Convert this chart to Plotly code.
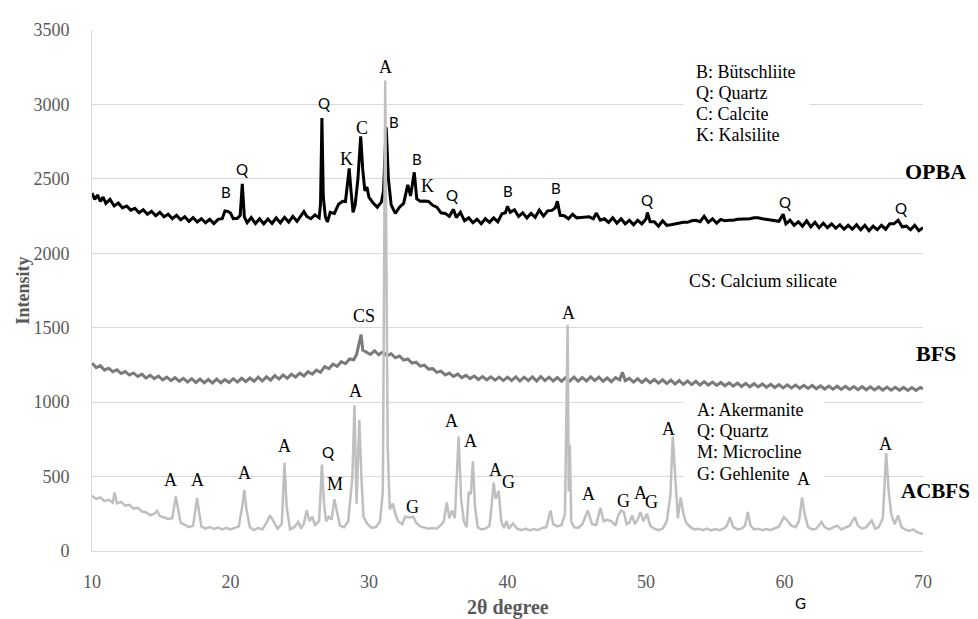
import plotly.graph_objects as go

# ---------------- data ----------------
opba_2theta = [10.0, 10.2, 10.4, 10.6, 10.8, 11.0, 11.3, 11.6, 11.9, 12.2, 12.5, 12.8, 13.1, 13.4, 13.7, 14.0, 14.3, 14.6, 14.9, 15.2,
               15.5, 15.8, 16.1, 16.4, 16.7, 17.0, 17.3, 17.6, 17.9, 18.2, 18.5, 18.8, 19.1, 19.4, 19.6, 19.8, 20.0, 20.2, 20.5, 20.7,
               20.85, 21.0, 21.2, 21.5, 21.8, 22.1, 22.4, 22.7, 23.0, 23.3, 23.6, 23.9, 24.2, 24.5, 24.8, 25.1, 25.3, 25.5, 25.8, 26.1,
               26.4, 26.5, 26.6, 26.7, 26.85, 27.0, 27.2, 27.5, 27.8, 28.1, 28.3, 28.45, 28.57, 28.7, 28.85, 29.0, 29.2, 29.4, 29.55, 29.7,
               29.85, 30.0, 30.3, 30.6, 30.9, 31.05, 31.24, 31.4, 31.6, 31.9, 32.2, 32.5, 32.8, 33.0, 33.27, 33.45, 33.7, 34.0, 34.3, 34.6,
               34.9, 35.2, 35.5, 35.8, 36.1, 36.3, 36.6, 36.9, 37.2, 37.5, 37.8, 38.1, 38.4, 38.7, 39.0, 39.3, 39.6, 39.85, 40.0, 40.2,
               40.5, 40.8, 41.1, 41.4, 41.7, 42.0, 42.3, 42.6, 42.9, 43.2, 43.45, 43.6, 43.8, 44.1, 44.4, 44.7, 45.0, 45.3, 45.6, 45.9,
               46.2, 46.4, 46.7, 47.0, 47.3, 47.6, 47.9, 48.2, 48.5, 48.8, 49.1, 49.4, 49.7, 50.0, 50.1, 50.3, 50.6, 50.9, 51.2, 51.5,
               51.8, 52.1, 52.4, 52.7, 53.0, 53.3, 53.6, 53.9, 54.2, 54.5, 54.8, 55.1, 55.4, 55.7, 56.0, 56.3, 56.6, 56.9, 57.2, 57.5,
               57.8, 58.1, 58.4, 58.7, 59.0, 59.3, 59.6, 59.9, 60.1, 60.4, 60.7, 61.0, 61.3, 61.6, 61.9, 62.2, 62.5, 62.8, 63.1, 63.4,
               63.7, 64.0, 64.3, 64.6, 64.9, 65.2, 65.5, 65.8, 66.1, 66.4, 66.7, 67.0, 67.3, 67.6, 67.9, 68.2, 68.5, 68.8, 69.1, 69.4,
               69.7, 70.0]
opba_intensity = [2405, 2362, 2392, 2348, 2378, 2335, 2362, 2318, 2338, 2305, 2318, 2290, 2302, 2272, 2292, 2262, 2282, 2252, 2275, 2245,
                  2262, 2232, 2255, 2225, 2245, 2215, 2240, 2210, 2232, 2205, 2228, 2200, 2228, 2232, 2285, 2282, 2270, 2232, 2235, 2255,
                  2467, 2245, 2205, 2240, 2200, 2232, 2198, 2230, 2200, 2238, 2205, 2242, 2210, 2248, 2215, 2250, 2280, 2248, 2232, 2258,
                  2238, 2330, 2909, 2380, 2245, 2210, 2275, 2268, 2330, 2350, 2348, 2470, 2571, 2420, 2275, 2325, 2500, 2785, 2560, 2420,
                  2445, 2375, 2338, 2310, 2345, 2420, 2847, 2500, 2325, 2268, 2310, 2335, 2460, 2385, 2544, 2365, 2350, 2352, 2348, 2322,
                  2310, 2272, 2268, 2248, 2295, 2240, 2275, 2218, 2238, 2205, 2228, 2198, 2232, 2208, 2238, 2212, 2265, 2272, 2316, 2275,
                  2292, 2248, 2272, 2238, 2268, 2242, 2290, 2250, 2285, 2288, 2305, 2350, 2255, 2252, 2232, 2262, 2238, 2240, 2242, 2245,
                  2232, 2270, 2222, 2232, 2208, 2238, 2202, 2232, 2198, 2222, 2192, 2222, 2198, 2230, 2274, 2212, 2212, 2182, 2218, 2188,
                  2192, 2198, 2202, 2208, 2208, 2218, 2222, 2212, 2248, 2208, 2232, 2202, 2228, 2218, 2222, 2222, 2228, 2228, 2232, 2232,
                  2238, 2238, 2232, 2228, 2222, 2218, 2215, 2262, 2198, 2222, 2188, 2212, 2182, 2218, 2178, 2208, 2172, 2202, 2172, 2198,
                  2168, 2192, 2162, 2188, 2162, 2192, 2158, 2188, 2152, 2182, 2158, 2188, 2162, 2198, 2198, 2222, 2178, 2182, 2158, 2188,
                  2152, 2172]

bfs_2theta = [10.0, 10.3, 10.6, 10.9, 11.2, 11.5, 11.8, 12.1, 12.4, 12.7, 13.0, 13.3, 13.6, 13.9, 14.2, 14.5, 14.8, 15.1, 15.4, 15.7,
              16.0, 16.3, 16.6, 16.9, 17.2, 17.5, 17.8, 18.1, 18.4, 18.7, 19.0, 19.3, 19.6, 19.9, 20.2, 20.5, 20.8, 21.1, 21.4, 21.7,
              22.0, 22.3, 22.6, 22.9, 23.2, 23.5, 23.8, 24.1, 24.4, 24.7, 25.0, 25.3, 25.6, 25.9, 26.2, 26.5, 26.8, 27.1, 27.4, 27.7,
              28.0, 28.3, 28.6, 28.9, 29.1, 29.3, 29.43, 29.55, 29.8, 30.1, 30.4, 30.7, 31.0, 31.3, 31.6, 31.9, 32.2, 32.5, 32.8, 33.1,
              33.4, 33.7, 34.0, 34.3, 34.6, 34.9, 35.2, 35.5, 35.8, 36.1, 36.4, 36.7, 37.0, 37.3, 37.6, 37.9, 38.2, 38.5, 38.8, 39.1,
              39.4, 39.7, 40.0, 40.3, 40.6, 40.9, 41.2, 41.5, 41.8, 42.1, 42.4, 42.7, 43.0, 43.3, 43.6, 43.9, 44.2, 44.5, 44.8, 45.1,
              45.4, 45.7, 46.0, 46.3, 46.6, 46.9, 47.2, 47.5, 47.8, 48.1, 48.3, 48.5, 48.8, 49.1, 49.4, 49.7, 50.0, 50.3, 50.6, 50.9,
              51.2, 51.5, 51.8, 52.1, 52.4, 52.7, 53.0, 53.3, 53.6, 53.9, 54.2, 54.5, 54.8, 55.1, 55.4, 55.7, 56.0, 56.3, 56.6, 56.9,
              57.2, 57.5, 57.8, 58.1, 58.4, 58.7, 59.0, 59.3, 59.6, 59.9, 60.2, 60.5, 60.8, 61.1, 61.4, 61.7, 62.0, 62.3, 62.6, 62.9,
              63.2, 63.5, 63.8, 64.1, 64.4, 64.7, 65.0, 65.3, 65.6, 65.9, 66.2, 66.5, 66.8, 67.1, 67.4, 67.7, 68.0, 68.3, 68.6, 68.9,
              69.2, 69.5, 69.8, 70.0]
bfs_intensity = [1262, 1232, 1245, 1215, 1228, 1205, 1218, 1192, 1205, 1182, 1196, 1172, 1188, 1162, 1180, 1158, 1175, 1150, 1168, 1145,
                 1165, 1140, 1160, 1135, 1158, 1132, 1155, 1130, 1152, 1128, 1155, 1130, 1152, 1132, 1158, 1135, 1160, 1138, 1162, 1140,
                 1168, 1142, 1170, 1148, 1178, 1155, 1182, 1160, 1188, 1168, 1195, 1175, 1205, 1188, 1215, 1200, 1238, 1225, 1255, 1240,
                 1272, 1258, 1290, 1285, 1320, 1390, 1454, 1350, 1335, 1320, 1345, 1318, 1338, 1312, 1325, 1298, 1310, 1282, 1290, 1262,
                 1268, 1242, 1248, 1222, 1225, 1200, 1208, 1182, 1195, 1172, 1188, 1165, 1180, 1158, 1175, 1152, 1172, 1150, 1170, 1148,
                 1168, 1145, 1168, 1145, 1170, 1142, 1168, 1145, 1170, 1142, 1172, 1145, 1168, 1142, 1165, 1140, 1165, 1142, 1168, 1140,
                 1165, 1142, 1170, 1145, 1168, 1140, 1162, 1138, 1165, 1150, 1200, 1145, 1160, 1135, 1158, 1132, 1155, 1130, 1152, 1128,
                 1150, 1125, 1148, 1122, 1145, 1120, 1142, 1118, 1140, 1115, 1138, 1115, 1135, 1112, 1132, 1110, 1130, 1108, 1128, 1105,
                 1126, 1103, 1124, 1102, 1122, 1100, 1120, 1098, 1118, 1096, 1116, 1095, 1115, 1093, 1113, 1092, 1112, 1090, 1110, 1088,
                 1108, 1087, 1107, 1086, 1106, 1085, 1105, 1084, 1104, 1083, 1103, 1082, 1102, 1081, 1101, 1080, 1100, 1080, 1099, 1079,
                 1098, 1079, 1098, 1090]

acbfs_2theta = [10.0, 10.3, 10.6, 10.9, 11.2, 11.5, 11.63, 11.8, 12.1, 12.4, 12.7, 13.0, 13.3, 13.6, 13.9, 14.2, 14.5, 14.7, 14.9, 15.2,
                15.5, 15.8, 15.95, 16.05, 16.2, 16.4, 16.7, 17.0, 17.3, 17.45, 17.59, 17.75, 17.9, 18.2, 18.5, 18.8, 19.1, 19.4, 19.7, 20.0,
                20.3, 20.6, 20.85, 21.0, 21.15, 21.4, 21.7, 22.0, 22.3, 22.6, 22.86, 23.1, 23.4, 23.7, 23.9, 24.05, 24.3, 24.6, 24.9, 25.1,
                25.3, 25.5, 25.7, 25.9, 26.1, 26.4, 26.6, 26.75, 26.9, 27.1, 27.3, 27.5, 27.7, 27.9, 28.2, 28.5, 28.8, 28.95, 29.1, 29.3,
                29.45, 29.6, 29.9, 30.2, 30.5, 30.8, 31.0, 31.17, 31.35, 31.5, 31.72, 31.9, 32.1, 32.4, 32.6, 32.9, 33.2, 33.4, 33.7, 34.0,
                34.3, 34.6, 34.9, 35.2, 35.4, 35.62, 35.8, 36.0, 36.2, 36.47, 36.65, 36.85, 37.05, 37.2, 37.35, 37.5, 37.65, 37.85, 38.1, 38.4,
                38.7, 38.85, 39.0, 39.15, 39.36, 39.55, 39.75, 39.93, 40.1, 40.4, 40.7, 41.0, 41.3, 41.6, 41.9, 42.2, 42.5, 42.8, 43.1, 43.3,
                43.6, 43.9, 44.15, 44.34, 44.42, 44.5, 44.6, 44.8, 45.1, 45.4, 45.8, 46.1, 46.4, 46.7, 46.95, 47.2, 47.5, 47.8, 48.0, 48.2,
                48.4, 48.6, 48.8, 49.0, 49.2, 49.4, 49.6, 49.8, 50.07, 50.3, 50.6, 50.9, 51.2, 51.5, 51.76, 51.93, 52.1, 52.3, 52.5, 52.7,
                52.9, 53.2, 53.5, 53.8, 54.1, 54.4, 54.7, 55.0, 55.3, 55.6, 55.85, 56.05, 56.3, 56.6, 56.9, 57.15, 57.35, 57.55, 57.8, 58.1,
                58.4, 58.7, 59.0, 59.3, 59.6, 59.95, 60.2, 60.5, 60.8, 61.05, 61.27, 61.45, 61.7, 62.0, 62.3, 62.67, 62.9, 63.2, 63.5, 63.8,
                64.1, 64.4, 64.7, 65.08, 65.3, 65.6, 65.9, 66.3, 66.55, 66.8, 67.1, 67.34, 67.5, 67.7, 67.95, 68.2, 68.45, 68.7, 69.0, 69.3,
                69.6, 70.0]
acbfs_intensity = [371, 350, 360, 335, 345, 325, 393, 320, 330, 305, 310, 285, 290, 265, 260, 240, 250, 270, 235, 225,
                   215, 220, 300, 367, 290, 190, 175, 161, 170, 260, 356, 250, 165, 150, 160, 148, 158, 145, 155, 145,
                   155, 165, 300, 411, 280, 160, 140, 155, 145, 190, 239, 200, 150, 180, 592, 300, 145, 160, 195, 150,
                   185, 273, 200, 230, 175, 200, 581, 320, 200, 230, 210, 347, 250, 170, 160, 200, 500, 979, 318, 880,
                   500, 230, 180, 155, 160, 200, 400, 3160, 700, 280, 318, 250, 200, 180, 230, 225, 230, 190, 165, 155,
                   150, 155, 150, 175, 200, 327, 220, 273, 220, 769, 350, 200, 160, 398, 380, 603, 300, 160, 145, 150,
                   170, 300, 460, 350, 404, 200, 155, 200, 150, 185, 150, 140, 150, 138, 148, 140, 155, 160, 272, 180,
                   165, 175, 250, 1520, 400, 714, 200, 160, 155, 180, 272, 180, 175, 290, 200, 210, 200, 170, 240, 272,
                   260, 180, 190, 239, 180, 210, 262, 200, 250, 170, 150, 140, 150, 200, 372, 770, 500, 220, 360, 250,
                   190, 160, 145, 150, 140, 150, 138, 148, 140, 150, 170, 228, 160, 145, 150, 170, 262, 170, 145, 150,
                   140, 148, 140, 150, 165, 228, 205, 170, 160, 200, 360, 250, 160, 145, 150, 195, 160, 145, 155, 170,
                   145, 155, 170, 228, 170, 150, 160, 206, 150, 160, 220, 658, 426, 250, 180, 239, 160, 145, 135, 145,
                   125, 113]

series_names = ["OPBA", "BFS", "ACBFS"]
y_ticks = [0, 500, 1000, 1500, 2000, 2500, 3000, 3500]
x_ticks = [10, 20, 30, 40, 50, 60, 70]

# peak labels: (letter, 2theta, intensity, style)
opba_labels = [("B", 19.68, 2413, "sans"), ("Q", 20.84, 2566, "sans"), ("Q", 26.76, 3008, "sans"),
               ("K", 28.4, 2632, "serif"), ("C", 29.48, 2840, "serif"), ("B", 31.77, 2880, "sans"),
               ("B", 33.45, 2632, "sans"), ("K", 34.2, 2449, "serif"), ("Q", 35.98, 2389, "sans"),
               ("B", 40.0, 2416, "sans"), ("B", 43.5, 2438, "sans"), ("Q", 50.1, 2361, "sans"),
               ("Q", 60.0, 2345, "sans"), ("Q", 68.38, 2306, "sans")]
bfs_labels = [("CS", 29.65, 1578, "serif")]
acbfs_labels = [("A", 31.17, 3249, "serif"), ("A", 15.64, 475, "serif"), ("A", 17.6, 475, "serif"),
                ("A", 21.0, 526, "serif"), ("A", 23.9, 703, "serif"), ("Q", 27.03, 665, "sans"),
                ("M", 27.56, 448, "serif"), ("A", 29.05, 1074, "serif"), ("G", 33.16, 294, "serif"),
                ("A", 35.98, 873, "serif"), ("A", 37.35, 741, "serif"), ("A", 39.1, 542, "serif"),
                ("G", 40.08, 464, "serif"), ("A", 44.4, 1598, "serif"), ("A", 45.86, 383, "serif"),
                ("G", 48.34, 334, "serif"), ("A", 49.6, 387, "serif"), ("G", 50.43, 327, "serif"),
                ("A", 51.64, 820, "serif"), ("A", 61.4, 482, "serif"), ("A", 67.3, 721, "serif")]

opba_key = ["B: Bütschliite", "Q: Quartz", "C: Calcite", "K: Kalsilite"]
bfs_key = ["CS: Calcium silicate"]
acbfs_key = ["A: Akermanite", "Q: Quartz", "M: Microcline", "G: Gehlenite"]

# ---------------- styling ----------------
SERIF = "Liberation Serif"
SANS = "Lato"
GRAY_TXT = "#595959"
GRID = "#d9d9d9"
colors = {"OPBA": "#000000", "BFS": "#7a7a7a", "ACBFS": "#bfbfbf"}
widths = {"OPBA": 3, "BFS": 3, "ACBFS": 2.5}

fig = go.Figure()
for name, xs, ys in [("OPBA", opba_2theta, opba_intensity),
                     ("BFS", bfs_2theta, bfs_intensity),
                     ("ACBFS", acbfs_2theta, acbfs_intensity)]:
    fig.add_trace(go.Scatter(x=xs, y=ys, mode="lines", name=name,
                             line=dict(color=colors[name], width=widths[name]), showlegend=False))

annotations = []
for lab, x, y, style in opba_labels + bfs_labels + acbfs_labels:
    annotations.append(dict(x=x, y=y, xref="x", yref="y", text=lab, showarrow=False,
                            xanchor="center", yanchor="middle",
                            font=dict(family=SERIF if style == "serif" else SANS,
                                      size=18 if style == "serif" else 15, color="#000000")))

# key text blocks (one annotation per line)
key_rows = [(opba_key, 53.5, [3216, 3077, 2938, 2792]),
            (bfs_key, 52.99, [1817]),
            (acbfs_key, 53.57, [948, 807, 665, 519])]
for lines, x0, ys in key_rows:
    for txt, y in zip(lines, ys):
        annotations.append(dict(x=x0, y=y, xref="x", yref="y", text=txt, showarrow=False,
                                xanchor="left", yanchor="middle",
                                font=dict(family=SERIF, size=18, color="#000000")))

# series names at right
for name, xp, y, fs in [("OPBA", 1.0150, 2548, 22), ("BFS", 1.0156, 1326, 22), ("ACBFS", 1.0150, 404, 21)]:
    annotations.append(dict(x=xp, y=y, xref="paper", yref="y", text="<b>%s</b>" % name, showarrow=False,
                            xanchor="center", yanchor="middle",
                            font=dict(family=SERIF, size=fs, color="#000000")))

# axis titles
annotations.append(dict(x=-0.0842, y=0.5, xref="paper", yref="paper", text="<b>Intensity</b>",
                        textangle=-90, showarrow=False, xanchor="center", yanchor="middle",
                        font=dict(family=SERIF, size=18, color=GRAY_TXT)))
annotations.append(dict(x=0.5, y=-0.108, xref="paper", yref="paper", text="<b>2θ degree</b>",
                        showarrow=False, xanchor="center", yanchor="middle",
                        font=dict(family=SERIF, size=20, color=GRAY_TXT)))
annotations.append(dict(x=0.852, y=-0.1004, xref="paper", yref="paper", text="G",
                        showarrow=False, xanchor="center", yanchor="middle",
                        font=dict(family=SANS, size=15, color="#000000")))

# white text-box backgrounds that break the gridlines
shapes = [
    dict(type="rect", xref="x", yref="y", x0=52.7, x1=61.8, y0=2740, y1=3280,
         fillcolor="white", line=dict(width=0), layer="between"),
    dict(type="rect", xref="x", yref="y", x0=52.68, x1=62.84, y0=460, y1=1010,
         fillcolor="white", line=dict(width=0), layer="between"),
    dict(type="rect", xref="paper", yref="y", x0=0.9627, x1=1.0, y0=2420, y1=2680,
         fillcolor="white", line=dict(width=0), layer="between"),
    dict(type="rect", xref="paper", yref="y", x0=0.9627, x1=1.0, y0=430, y1=580,
         fillcolor="white", line=dict(width=0), layer="between"),
]

# the page body adds an 8 px offset, so the figure is 8 px smaller than the window
fig.update_layout(
    width=970, height=611,
    margin=dict(l=84, r=55, t=15, b=68),
    paper_bgcolor="white", plot_bgcolor="white",
    annotations=annotations, shapes=shapes,
    showlegend=False,
)
fig.update_xaxes(range=[10, 70], tickvals=x_ticks, showgrid=False, zeroline=False,
                 showline=True, linecolor=GRID, linewidth=1,
                 ticks="", ticklabelstandoff=14,
                 tickfont=dict(family=SERIF, size=18, color=GRAY_TXT))
fig.update_yaxes(range=[0, 3500], tickvals=y_ticks, showgrid=True, gridcolor=GRID, gridwidth=1,
                 zeroline=False, showline=True, linecolor=GRID, linewidth=1,
                 ticks="", ticklabelstandoff=18,
                 tickfont=dict(family=SERIF, size=18, color=GRAY_TXT))

fig.write_html("out.html")
